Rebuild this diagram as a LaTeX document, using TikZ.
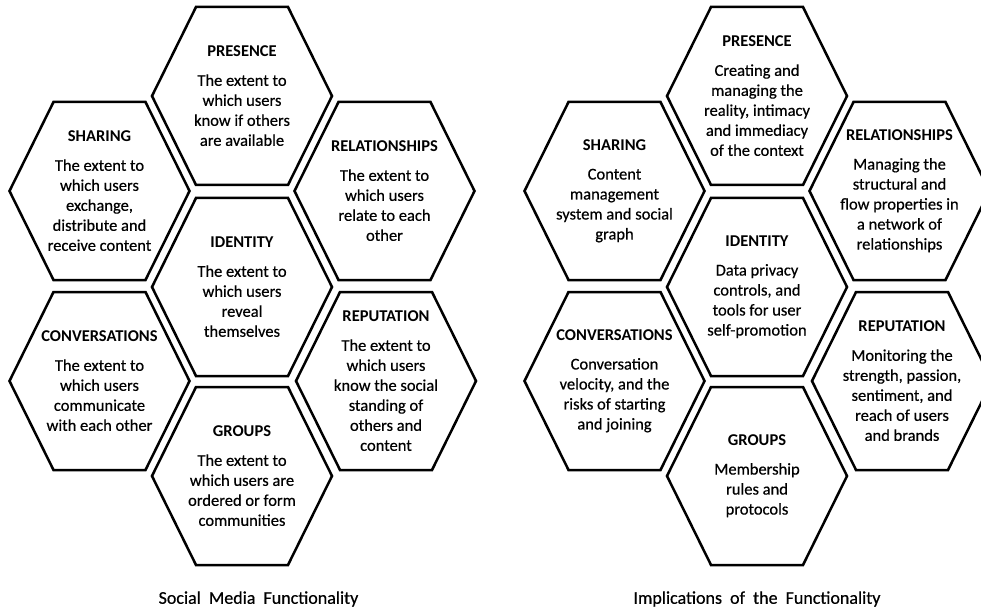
\documentclass[tikz,border=0pt]{standalone}
\usepackage{fontspec}
\setmainfont{Carlito}
\newfontfamily\bodyfont{Carlito}[FakeBold=0.5]
\tikzset{
  hexline/.style={draw=black, line width=2.5pt, line join=miter},
  hextext/.style={align=center, inner sep=0pt, font=\bodyfont\fontsize{16.5}{20}\selectfont},
  captiontext/.style={inner sep=0pt, font=\bodyfont\fontsize{18}{22}\selectfont}
}
\newcommand{\hexcell}[4]{%
  \draw[hexline] (#2-90,#3) -- (#2-46,#3-89) -- (#2+46,#3-89) -- (#2+90,#3)
     -- (#2+46,#3+89) -- (#2-46,#3+89) -- cycle;
  \node[hextext] (#1) at (#2,#3) {#4};
}
\newcommand{\htitle}[1]{{\rmfamily\bfseries #1}\\[9pt]}
\begin{document}
\begin{tikzpicture}[x=1pt,y=-1pt]
\useasboundingbox (0,0) rectangle (981,609);
% ---------- left cluster ----------
\hexcell{lpres}{242}{96}{\htitle{PRESENCE}The extent to\\which users\\know if others\\are available}
\hexcell{lshar}{99.5}{191}{\htitle{SHARING}The extent to\\which users\\exchange,\\distribute and\\receive content}
\hexcell{lrel}{384.5}{191}{\htitle{RELATIONSHIPS}The extent to\\which users\\relate to each\\other}
\hexcell{lid}{242}{287}{\htitle{IDENTITY}The extent to\\which users\\reveal\\themselves}
\hexcell{lconv}{99.5}{381}{\htitle{CONVERSATIONS}The extent to\\which users\\communicate\\with each other}
\hexcell{lrep}{386}{381}{\htitle{REPUTATION}The extent to\\which users\\know the social\\standing of\\others and\\content}
\hexcell{lgrp}{242}{476}{\htitle{GROUPS}The extent to\\which users are\\ordered or form\\communities}
\node[captiontext] (lcap) at (258.5,599) {Social\hspace{4pt} Media\hspace{4pt} Functionality};
% ---------- right cluster ----------
\hexcell{rpres}{757}{96}{\htitle{PRESENCE}Creating and\\managing the\\reality, intimacy\\and immediacy\\of the context}
\hexcell{rshar}{614.5}{191}{\htitle{SHARING}Content\\management\\system and social\\graph}
\hexcell{rrel}{899.5}{191}{\htitle{RELATIONSHIPS}Managing the\\structural and\\flow properties in\\a network of\\relationships}
\hexcell{rid}{757}{287}{\htitle{IDENTITY}Data privacy\\controls,\ and\\tools for user\\self-promotion}
\hexcell{rconv}{614.5}{381}{\htitle{CONVERSATIONS}Conversation\\velocity, and the\\risks of starting\\and joining}
\hexcell{rrep}{902}{381}{\htitle{REPUTATION}Monitoring the\\strength, passion,\\sentiment, and\\reach of users\\and brands}
\hexcell{rgrp}{757}{476}{\htitle{GROUPS}Membership\\rules and\\protocols}
\node[captiontext] (rcap) at (757,599) {Implications\hspace{4pt} of\hspace{4pt} the\hspace{4pt} Functionality};
\end{tikzpicture}
\end{document}
